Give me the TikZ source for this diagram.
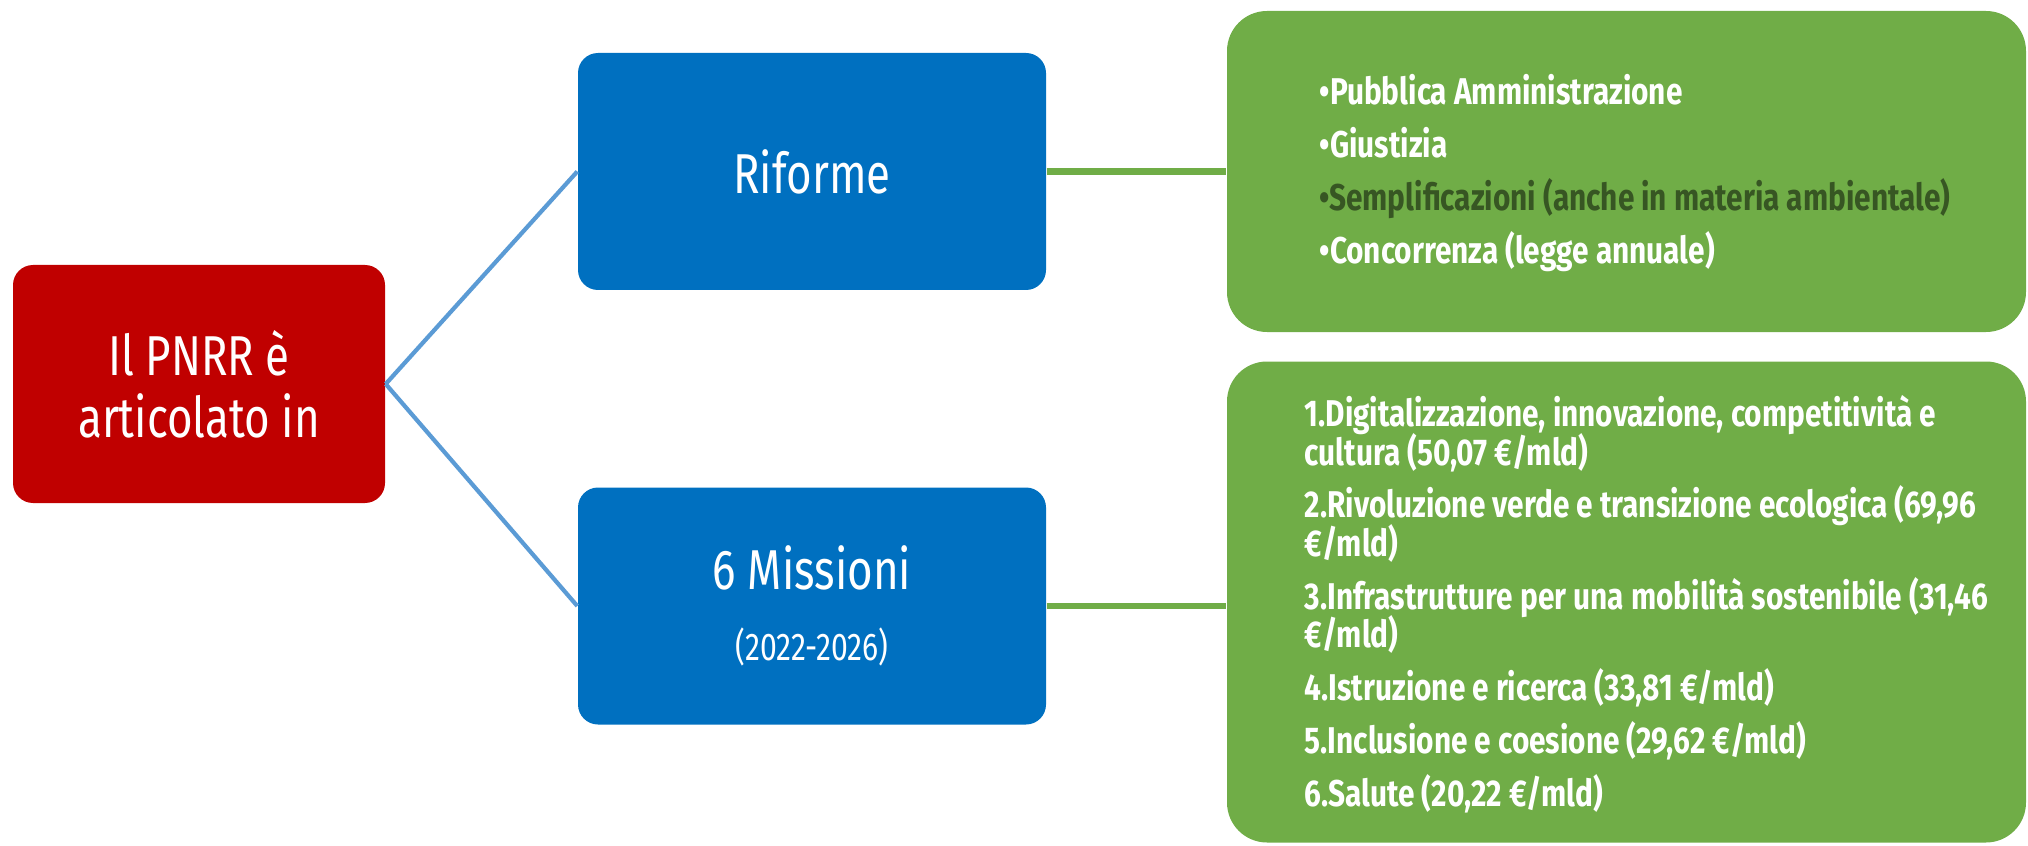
\documentclass[tikz,border=0pt]{standalone}
\usepackage{fontspec}
\setmainfont[FakeStretch=0.78]{Fira Sans}
\newfontfamily\listfont[FakeStretch=0.8]{Fira Sans}
\usepackage{tikz}
\usepackage{xcolor}
\definecolor{pnrr red}{HTML}{C00000}
\definecolor{box blue}{HTML}{0070C0}
\definecolor{link blue}{HTML}{5B9BD5}
\definecolor{list green}{HTML}{70AD47}
\definecolor{dark green}{HTML}{375623}
\newcommand{\tightlines}{\lineskiplimit -6pt\relax}
\tikzstyle{red box}=[
        fill = pnrr red,
        rounded corners = 2mm,
        text = white,
        minimum width = 37.2mm,
        minimum height = 23.8mm,
        align = center,
        font = \fontsize{16}{17.6}\selectfont
    ]
\tikzstyle{blue box}=[
    fill = box blue,
    rounded corners = 2mm,
    text = white,
    minimum width = 46.8mm,
    minimum height = 23.7mm,
    align = center,
    font = \fontsize{16}{17}\selectfont
]
\tikzstyle{green box}=[
    fill = list green,
    rounded corners = 4mm,
    minimum width = 79.9mm
]
\tikzstyle{list text}=[
    text = white,
    align = left,
    inner sep = 0pt,
    font = \listfont\bfseries\fontsize{10.6}{11}\selectfont\tightlines
]

\begin{document}
\begin{tikzpicture}[node distance={81.45mm}, link/.style = {draw = link blue, line width = 1.2pt}, branch/.style = {draw = list green, line width = 1.8pt}]
        \useasboundingbox (0,0) rectangle (20.28,8.45);
        \node[red box] (pnrr) at (1.99,4.61) {Il PNRR è\\articolato in};
        \node[blue box] (riforme) at (8.12,6.735) {Riforme};
        \node[blue box] (missioni) [below of = riforme, node distance = 43.45mm] {6 Missioni\\[3pt]{\fontsize{11}{13}\selectfont (2022-2026)}};
        \node[green box, minimum height = 32.1mm] (verde1) [right of = riforme] {};
        \node[green box, minimum height = 48.1mm, yshift = 0.4mm] (verde2) [right of = missioni] {};

        \node[list text, anchor = west] (riformelist) at (13.19,6.72) {%
            •Pubblica Amministrazione\\[4pt]
            •Giustizia\\[4pt]
            {\color{dark green}•Semplificazioni (anche in materia ambientale)}\\[4pt]
            •Concorrenza (legge annuale)};
        \node[list text, anchor = west] (missionilist) at (13.04,2.41) {%
            1.Digitalizzazione, innovazione, competitività e\\
            cultura (50,07 €/mld)\\[4pt]
            2.Rivoluzione verde e transizione ecologica (69,96\\
            €/mld)\\[4pt]
            3.Infrastrutture per una mobilità sostenibile (31,46\\
            €/mld)\\[4pt]
            4.Istruzione e ricerca (33,81 €/mld)\\[4pt]
            5.Inclusione e coesione (29,62 €/mld)\\[4pt]
            6.Salute (20,22 €/mld)};

        \draw[link] (pnrr.east) -- (riforme.west);
        \draw[link] (pnrr.east) -- (missioni.west);
        \draw[branch] (riforme.east) -- (verde1.west);
        \draw[branch] (missioni.east) -- (missioni.east -| verde2.west);

    \end{tikzpicture}
\end{document}
